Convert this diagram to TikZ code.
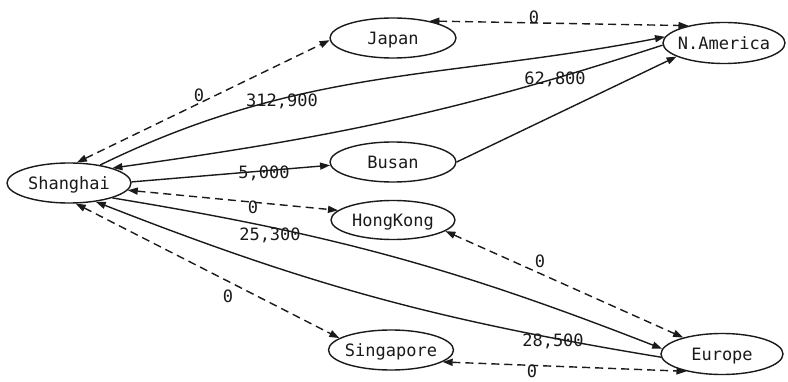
\documentclass[tikz,border=0pt]{standalone}
\usepackage{fontspec}
\setmonofont{DejaVu Sans Mono}
\usetikzlibrary{shapes.geometric,arrows.meta}
\definecolor{ink}{HTML}{1A1A1A}
\tikzset{
  place/.style={ellipse, draw=ink, line width=1.4pt, inner sep=0pt,
    minimum width=124pt, minimum height=40pt,
    font=\ttfamily\fontsize{17}{20}\selectfont, text=ink,
    text height=12.4pt, text depth=0pt},
  lab/.style={inner sep=0pt, font=\ttfamily\fontsize{17}{20}\selectfont, text=ink,
    text height=12.4pt, text depth=0pt},
  sol/.style={draw=ink, line width=1.4pt},
  dsh/.style={draw=ink, line width=1.4pt, dash pattern=on 8pt off 5pt},
  >={Triangle[length=10pt,width=7pt]}
}
\begin{document}
\begin{tikzpicture}[x=1pt,y=1pt]
\useasboundingbox[fill=white] (0,0) rectangle (788,381);
% places
\node[place] (SH) at (69,198) {\makebox[0pt]{Shanghai}};
\node[place, minimum width=126pt] (JP) at (393,343) {\makebox[0pt]{Japan}};
\node[place, minimum width=122pt, minimum height=41pt] (NA) at (724,338) {\makebox[0pt]{N.America}};
\node[place, minimum width=126pt] (BU) at (393,219) {\makebox[0pt]{Busan}};
\node[place, minimum height=39pt] (HK) at (393,161) {\makebox[0pt]{HongKong}};
\node[place, minimum width=125pt] (SG) at (391,31) {\makebox[0pt]{Singapore}};
\node[place, minimum width=122pt, minimum height=41pt] (EU) at (722,27) {\makebox[0pt]{Europe}};
% connectors
\draw[dsh,<->] (SH.69) -- (JP.182);
\draw[sol,->] (SH.30) to[out=26,in=191] (NA.174);
\draw[sol,->] (NA.182) to[out=198,in=8] (SH.19);
\draw[sol,->] (BU.0) -- (NA.196);
\draw[sol,->] (SH.1) -- (BU.183);
\draw[dsh,<->] (SH.353) -- (HK.170);
\draw[sol,->] (SH.341) to[bend left=6] (EU.175);
\draw[sol,->] (EU.183) to[bend left=6] (SH.325);
\draw[dsh,<->] (SH.288) -- (SG.167);
\draw[dsh,<->] (HK.348) -- (EU.157);
\draw[dsh,<->] (SG.347) -- (EU.206);
\draw[dsh,<->] (JP.25) -- (NA.154);
% labels
\node[lab] (l1) at (199,286) {0};
\node[lab] (l2) at (282,281) {312,900};
\node[lab] (l3) at (555,303) {62,800};
\node[lab] (l4) at (264,209) {5,000};
\node[lab] (l5) at (253,174) {0};
\node[lab] (l6) at (270,147) {25,300};
\node[lab] (l7) at (553,41) {28,500};
\node[lab] (l8) at (228,85) {0};
\node[lab] (l9) at (540,120) {0};
\node[lab] (l10) at (532,9.5) {0};
\node[lab] (l11) at (534,364) {0};
\end{tikzpicture}
\end{document}
